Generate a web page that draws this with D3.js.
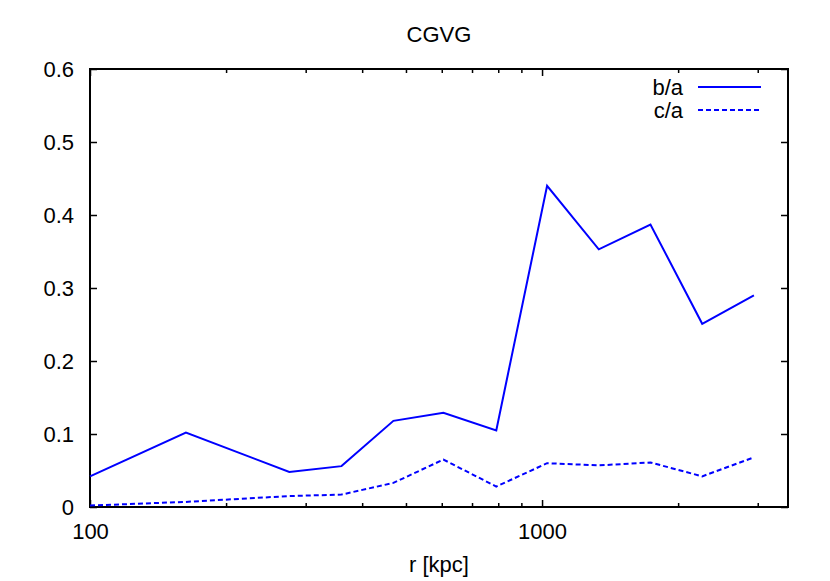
<!DOCTYPE html>
<html>
<head>
	<meta charset="utf-8">
	<script src="https://cdnjs.cloudflare.com/ajax/libs/d3/7.8.5/d3.min.js" charset="utf-8"></script>
	<style>
	  body { margin: 0; background: #fff; }
	  text { font-family: "Liberation Sans", Arial, sans-serif; }
	</style>
</head>
<body>
<div id="chart"></div>
<script>
// data
var radius = [100, 163, 276, 360, 469, 605, 792, 1026, 1335, 1737, 2261, 2942];
var bOverA = [0.042, 0.102, 0.048, 0.056, 0.118, 0.129, 0.105, 0.440, 0.353, 0.387, 0.251, 0.290];
var cOverA = [0.002, 0.007, 0.015, 0.017, 0.033, 0.065, 0.028, 0.060, 0.057, 0.061, 0.042, 0.068];
var seriesNames = ["b/a", "c/a"];
var xMajorTicks = [100, 1000];
var xMinorTicks = [200, 300, 400, 500, 600, 700, 800, 900, 2000, 3000];
var yTicks = [0, 0.1, 0.2, 0.3, 0.4, 0.5, 0.6];
var yTickLabels = ["0", "0.1", "0.2", "0.3", "0.4", "0.5", "0.6"];

var width = 830, height = 581;
var margin = {top: 69, right: 42, bottom: 74, left: 90};
var w = width - margin.left - margin.right,
    h = height - margin.top - margin.bottom;
var fontSize = "22px";

var svg = d3.select("#chart").append("svg")
    .attr("width", width)
    .attr("height", height);

var g = svg.append("g")
    .attr("transform", "translate(" + margin.left + "," + margin.top + ")");

var x = d3.scaleLog().domain([100, 3500]).range([0, w]);
var y = d3.scaleLinear().domain([0, 0.6]).range([h, 0]);

// ticks, all pointing inwards like gnuplot
function styleAxis(sel) {
  sel.select(".domain").remove();
  sel.selectAll("line").attr("stroke", "#000").attr("stroke-width", 1.5);
  sel.selectAll("text").style("font-size", fontSize).attr("fill", "#000");
}

g.append("g")
    .attr("transform", "translate(0," + h + ")")
    .call(d3.axisBottom(x).tickValues(xMajorTicks).tickFormat(d3.format("d"))
      .tickSizeInner(-7).tickSizeOuter(0).tickPadding(16))
    .call(styleAxis);
g.append("g")
    .attr("transform", "translate(0," + h + ")")
    .call(d3.axisBottom(x).tickValues(xMinorTicks).tickFormat("")
      .tickSizeInner(-4).tickSizeOuter(0))
    .call(styleAxis);
g.append("g")
    .call(d3.axisTop(x).tickValues(xMajorTicks).tickFormat("")
      .tickSizeInner(-7).tickSizeOuter(0))
    .call(styleAxis);
g.append("g")
    .call(d3.axisTop(x).tickValues(xMinorTicks).tickFormat("")
      .tickSizeInner(-4).tickSizeOuter(0))
    .call(styleAxis);

g.append("g")
    .call(d3.axisLeft(y).tickValues(yTicks).tickFormat(function(d, i) { return yTickLabels[i]; })
      .tickSizeInner(-7).tickSizeOuter(0).tickPadding(16))
    .call(styleAxis);
g.append("g")
    .attr("transform", "translate(" + w + ",0)")
    .call(d3.axisRight(y).tickValues(yTicks).tickFormat("")
      .tickSizeInner(-7).tickSizeOuter(0))
    .call(styleAxis);

// frame
g.append("rect")
    .attr("width", w)
    .attr("height", h)
    .attr("fill", "none")
    .attr("stroke", "#000")
    .attr("stroke-width", 2);

// lines
var line = function(vals) {
  return d3.line()
    .x(function(d, i) { return x(radius[i]); })
    .y(function(d) { return y(d); })(vals);
};

var dashes = [null, "5,3"];
[bOverA, cOverA].forEach(function(vals, k) {
  g.append("path")
    .attr("d", line(vals))
    .attr("fill", "none")
    .attr("stroke", "#0000ff")
    .attr("stroke-width", 2)
    .attr("stroke-dasharray", dashes[k]);
});

// key
var key = g.append("g").attr("transform", "translate(" + (w - 108) + ",18)");
seriesNames.forEach(function(name, k) {
  key.append("text")
    .attr("x", 3)
    .attr("y", k * 23 + 8)
    .attr("text-anchor", "end")
    .style("font-size", fontSize)
    .text(name);
  key.append("line")
    .attr("x1", 18).attr("x2", 81)
    .attr("y1", k * 23).attr("y2", k * 23)
    .attr("stroke", "#0000ff")
    .attr("stroke-width", 2)
    .attr("stroke-dasharray", dashes[k]);
});

// titles
svg.append("text")
    .attr("x", margin.left + w / 2)
    .attr("y", 42)
    .attr("text-anchor", "middle")
    .style("font-size", fontSize)
    .text("CGVG");
svg.append("text")
    .attr("x", margin.left + w / 2)
    .attr("y", 572)
    .attr("text-anchor", "middle")
    .style("font-size", fontSize)
    .text("r [kpc]");
</script>
</body>
</html>
